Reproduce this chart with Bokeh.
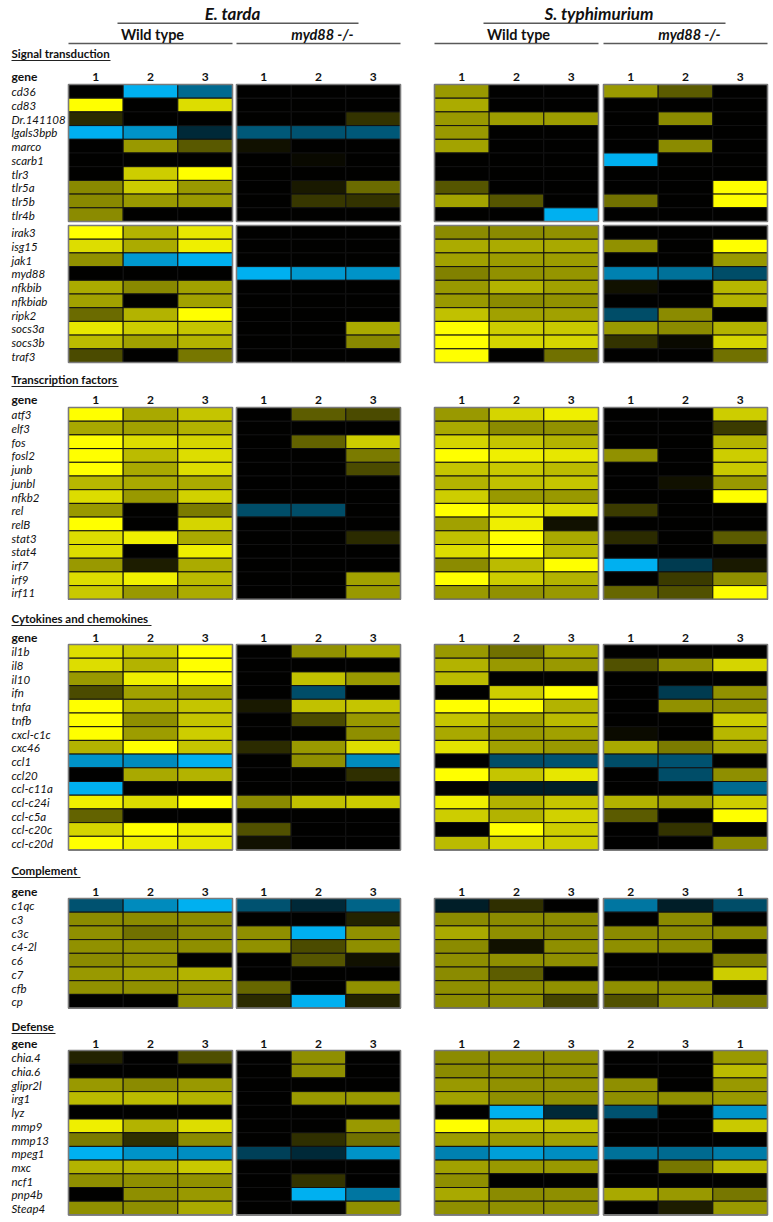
from bokeh.plotting import figure
from bokeh.models import ColumnDataSource, LinearColorMapper, Range1d
from bokeh.core.properties import value
from bokeh.embed import file_html
from bokeh.resources import INLINE

# ---------------- data (log2 fold change, saturating at +-3) ----------------
groups = ["E. tarda", "S. typhimurium"]
genotypes = ["Wild type", "myd88 -/-"]
cols_std = ["1", "2", "3"]
cols_alt = ["2", "3", "1"]

signal_genes = ["cd36", "cd83", "Dr.141108", "lgals3bpb", "marco", "scarb1", "tlr3", "tlr5a", "tlr5b", "tlr4b",
                "irak3", "isg15", "jak1", "myd88", "nfkbib", "nfkbiab", "ripk2", "socs3a", "socs3b", "traf3"]
signal_et_wt = [[0, -3, -1.8], [3, 0, 2.6], [0.5, 0, 0], [-3, -2.5, -0.7], [0, 1.8, 1.05], [0, 0, 0],
                [0, 2.4, 3], [1.6, 2.4, 1.8], [1.6, 1.8, 1.8], [1.62, 0, 0],
                [3, 2.1, 2.7], [2.6, 2.0, 2.8], [1.7, -2.6, -3], [0, 0, 0], [2.0, 1.6, 1.88], [1.88, 0, 1.88],
                [1.25, 2.1, 3], [2.7, 2.4, 2.3], [2.2, 1.88, 2.1], [0.87, 0, 1.4]]
signal_et_ko = [[0, 0, 0], [0, 0, 0], [0, 0, 0.6], [-1.5, -1.4, -1.5], [0.2, 0, 0], [0, 0.1, 0],
                [0, 0, 0], [0, 0.3, 1.25], [0, 0.65, 0.6], [0, 0, 0],
                [0, 0, 0], [0, 0, 0], [0, 0, 0], [-3, -2.6, -2.5], [0, 0, 0], [0, 0, 0],
                [0, 0, 0], [0, 0, 2.0], [0, 0, 1.6], [0, 0, 0]]
signal_st_wt = [[1.8, 0, 0], [2.0, 0, 0], [1.8, 1.85, 1.85], [1.8, 0, 0], [1.9, 0, 0], [0, 0, 0],
                [0, 0, 0], [1.0, 0, 0], [1.9, 1.0, 0], [0, 0, -3],
                [1.62, 1.62, 1.7], [2.0, 2.0, 1.98], [1.88, 1.85, 1.85], [1.5, 1.7, 1.75], [1.8, 2.1, 1.88],
                [1.8, 1.62, 1.7], [2.25, 1.88, 1.88], [3, 2.4, 2.35], [3, 2.5, 2.5], [3, 0, 1.32]]
signal_st_ko = [[1.8, 1.06, 0], [0, 0, 0], [0, 1.62, 0], [0, 0, 0], [0, 1.62, 0], [-3, 0, 0],
                [0, 0, 0], [0, 0, 3], [1.32, 0, 3], [0, 0, 0],
                [0, 0, 0], [1.7, 0, 3], [0, 0, 1.8], [-2.2, -1.9, -1.3], [0.2, 0, 2.15], [0, 0, 2.1],
                [-1.3, 1.62, 0], [1.8, 1.62, 2.1], [0.6, 0.1, 2.5], [0, 0, 1.32]]

tf_genes = ["atf3", "elf3", "fos", "fosl2", "junb", "junbl", "nfkb2", "rel", "relB", "stat3", "stat4",
            "irf7", "irf9", "irf11"]
tf_et_wt = [[3, 1.98, 2.3], [1.98, 1.88, 2.1], [3, 2.6, 2.5], [3, 2.2, 2.6], [3, 1.98, 2.6],
            [2.15, 1.98, 2.0], [2.6, 1.8, 2.45], [1.8, 0, 1.45], [3, 0, 2.5], [2.6, 2.8, 1.98],
            [2.6, 0, 2.8], [1.8, 0.35, 2.0], [2.6, 2.8, 2.2], [2.35, 1.8, 2.0]]
tf_et_ko = [[0, 1.1, 0.87], [0, 0, 0], [0, 1.15, 2.4], [0, 0, 1.45], [0, 0, 0.87], [0, 0, 0],
            [0, 0, 0], [-1.3, -1.3, 0], [0, 0, 0], [0, 0, 0.5], [0, 0, 0], [0, 0, 0],
            [0, 0, 1.88], [0, 0, 1.8]]
tf_st_wt = [[1.8, 2.5, 2.8], [1.98, 1.62, 1.7], [2.5, 2.3, 2.1], [3, 2.8, 2.7], [2.3, 2.35, 2.2],
            [2.1, 2.25, 2.3], [2.4, 1.8, 1.8], [3, 2.8, 2.6], [1.88, 2.8, 0.2], [2.25, 3, 1.98],
            [2.6, 3, 2.2], [1.62, 2.2, 3], [3, 2.4, 2.1], [1.8, 1.7, 1.8]]
tf_st_ko = [[0, 0, 2.4], [0, 0, 0.68], [0, 0, 2.1], [1.7, 0, 2.4], [0, 0, 2.35], [0, 0.2, 1.8],
            [0, 0, 3], [0.68, 0, 0], [0, 0, 0], [0.5, 0, 1.06], [0, 0, 0], [-3, -1.0, 0.3],
            [0, 0.68, 1.68], [1.2, 0.94, 3]]

cyto_genes = ["il1b", "il8", "il10", "ifn", "tnfa", "tnfb", "cxcl-c1c", "cxc46", "ccl1", "ccl20",
              "ccl-c11a", "ccl-c24i", "ccl-c5a", "ccl-c20c", "ccl-c20d"]
cyto_et_wt = [[2.6, 2.35, 3], [2.6, 2.1, 3], [1.8, 2.8, 3], [0.87, 1.88, 1.88], [3, 2.1, 2.3],
              [3, 1.68, 2.3], [3, 1.85, 2.4], [2.1, 3, 2.3], [-2.5, -2.35, -3], [0, 1.98, 2.1],
              [-3, 0, 0], [2.8, 2.6, 3], [1.15, 0, 0], [2.5, 3, 2.8], [3, 2.8, 2.7]]
cyto_et_ko = [[0, 1.7, 1.98], [0, 0, 0], [0, 2.25, 1.8], [0, -1.3, 0], [0.3, 2.25, 2.3],
              [0, 0.87, 1.8], [0, 0, 1.68], [0.5, 1.8, 2.6], [0, 1.68, -2.35], [0, 0, 0.54],
              [0, 0, 0], [1.62, 2.25, 2.4], [0, 0, 0], [0.94, 0, 0], [0.2, 0, 0]]
cyto_st_wt = [[1.8, 1.32, 1.98], [2.1, 1.8, 1.8], [2.2, 0, 0], [0, 2.4, 3], [3, 3, 2.1],
              [2.3, 1.88, 2.2], [1.98, 1.8, 1.88], [2.65, 1.88, 1.8], [0, -1.3, -1.4], [3, 2.3, 2.7],
              [0, -0.5, -0.5], [2.8, 2.1, 2.3], [2.4, 2.1, 2.45], [0, 3, 2.4], [2.2, 2.5, 2.4]]
cyto_st_ko = [[0, 0, 0], [0.94, 1.7, 2.5], [0, 0, 0], [0, -1.0, 1.7], [0, 1.7, 1.7],
              [0, 0, 2.4], [0.12, 0, 2.15], [1.98, 1.45, 1.98], [-1.3, -1.4, 0], [0, -1.3, 1.68],
              [0, 0, -1.8], [2.1, 1.88, 2.4], [1.06, 0, 3], [0, 0.6, 0], [0, 0, 1.62]]

comp_genes = ["c1qc", "c3", "c3c", "c4-2l", "c6", "c7", "cfb", "cp"]
comp_et_wt = [[-1.4, -2.35, -3], [1.62, 1.62, 1.62], [1.68, 1.32, 1.62], [1.7, 1.7, 1.68],
              [1.62, 1.7, 0], [1.8, 1.88, 2.1], [1.7, 1.7, 1.7], [0, 0, 1.68]]
comp_et_ko = [[-1.4, -0.7, -1.7], [0, 0, 0.4], [1.68, -3, 1.7], [1.7, 0.87, 1.68],
              [0, 1.0, 0.2], [0, 0, 0], [1.2, 0, 1.7], [0.5, -3, 0.4]]
comp_st_wt = [[-0.5, 0.54, 0], [1.62, 1.62, 1.62], [1.98, 1.68, 1.62], [1.62, 0.2, 1.68],
              [1.68, 1.68, 1.68], [1.62, 1.1, 0], [1.68, 1.7, 1.7], [1.62, 1.62, 0.8]]
comp_st_ko = [[-2.0, -0.5, -1.3], [0, 1.62, 0], [1.62, 1.62, 1.62], [1.68, 1.62, 0],
              [0, 0, 1.45], [0, 0, 2.4], [1.68, 1.62, 0], [0.94, 1.62, 1.4]]

def_genes = ["chia.4", "chia.6", "glipr2l", "irg1", "lyz", "mmp9", "mmp13", "mpeg1", "mxc", "ncf1",
             "pnp4b", "Steap4"]
def_et_wt = [[0.4, 0, 0.92], [0, 0, 0], [1.8, 1.62, 1.8], [2.2, 2.2, 2.1], [0, 0, 0], [2.8, 2.1, 2.6],
             [1.45, 0.54, 1.62], [-3, -2.5, -2.4], [2.1, 2.1, 2.35], [1.68, 1.68, 1.7],
             [0, 1.68, 1.8], [1.68, 1.68, 1.98]]
def_et_ko = [[0, 1.68, 0], [0, 1.68, 0], [0, 0, 0], [0, 1.8, 1.8], [0, 0, 0], [0, 0, 1.8],
             [0, 0.54, 1.32], [-1.1, -0.7, -2.5], [0, 0, 0], [0, 0.6, 0], [0, -3, -2.0], [0, 0, 1.68]]
def_st_wt = [[1.62, 1.68, 1.68], [1.62, 1.68, 1.68], [1.8, 1.7, 1.7], [1.88, 1.68, 1.68],
             [0, -3, -0.7], [3, 2.4, 2.3], [1.85, 1.8, 1.88], [-2.2, -2.7, -2.4], [1.88, 1.8, 1.8],
             [1.68, 0, 0], [1.98, 1.62, 1.68], [1.68, 1.68, 1.68]]
def_st_ko = [[0, 0, 1.8], [0, 0, 2.2], [1.68, 0, 1.8], [1.68, 1.68, 1.8], [-1.4, 0, -2.5],
             [0, 0, 2.35], [0, 0, 0], [-1.9, -1.8, -2.1], [0, 1.4, 2.2], [0, 0, 0],
             [1.98, 1.8, 1.4], [0, 0.35, 1.8]]

# ---------------- layout ----------------
sections = [
    dict(title="Signal transduction", genes=signal_genes,
         panels=[signal_et_wt, signal_et_ko, signal_st_wt, signal_st_ko], cols4=cols_std,
         title_y=53, gene_y=76, top=84, blocks=[10, 10], ul=99),
    dict(title="Transcription factors", genes=tf_genes,
         panels=[tf_et_wt, tf_et_ko, tf_st_wt, tf_st_ko], cols4=cols_std,
         title_y=379, gene_y=399, top=407, blocks=[14], ul=107),
    dict(title="Cytokines and chemokines", genes=cyto_genes,
         panels=[cyto_et_wt, cyto_et_ko, cyto_st_wt, cyto_st_ko], cols4=cols_std,
         title_y=618, gene_y=637, top=644, blocks=[15], ul=140),
    dict(title="Complement", genes=comp_genes,
         panels=[comp_et_wt, comp_et_ko, comp_st_wt, comp_st_ko], cols4=cols_alt,
         title_y=870, gene_y=891, top=898, blocks=[8], ul=69),
    dict(title="Defense", genes=def_genes,
         panels=[def_et_wt, def_et_ko, def_st_wt, def_st_ko], cols4=cols_alt,
         title_y=1026, gene_y=1043, top=1050, blocks=[12], ul=44),
]

W, H = 773, 1222
panel_left = [68, 236, 434, 603]
panel_w = 164
col_w = panel_w / 3
row_h = 13.7
block_gap = 4
label_x = 11
FONT = "Lato"

palette = []
for i in range(256):
    t = -1 + 2 * i / 255
    if t < 0:
        palette.append("#%02x%02x%02x" % (0, round(176 * -t), round(240 * -t)))
    else:
        palette.append("#%02x%02x%02x" % (round(255 * t), round(255 * t), 0))
mapper = LinearColorMapper(palette=palette, low=-3, high=3)

cells = dict(x=[], y=[], v=[])
frames = dict(x=[], y=[], h=[])
genes_txt = dict(x=[], y=[], t=[])
nums_txt = dict(x=[], y=[], t=[])
gene_hdr = dict(x=[], y=[], t=[])
titles = dict(x=[], y=[], t=[])
ul = dict(x0=[], x1=[], y=[])

for s in sections:
    titles["x"].append(label_x); titles["y"].append(s["title_y"]); titles["t"].append(s["title"])
    ul["x0"].append(label_x); ul["x1"].append(label_x + s["ul"]); ul["y"].append(s["title_y"] + 7)
    gene_hdr["x"].append(label_x); gene_hdr["y"].append(s["gene_y"]); gene_hdr["t"].append("gene")
    for k in range(4):
        labels = s["cols4"] if k == 3 else cols_std
        for c in range(3):
            nums_txt["x"].append(panel_left[k] + (c + 0.5) * col_w)
            nums_txt["y"].append(s["gene_y"])
            nums_txt["t"].append(labels[c])
    r0 = 0
    ytop = s["top"]
    for n in s["blocks"]:
        for k in range(4):
            frames["x"].append(panel_left[k] + panel_w / 2)
            frames["y"].append(ytop + n * row_h / 2)
            frames["h"].append(n * row_h)
        for i in range(n):
            r = r0 + i
            yc = ytop + (i + 0.5) * row_h
            genes_txt["x"].append(label_x); genes_txt["y"].append(yc + 0.5); genes_txt["t"].append(s["genes"][r])
            for k in range(4):
                for c in range(3):
                    cells["x"].append(panel_left[k] + (c + 0.5) * col_w)
                    cells["y"].append(yc)
                    cells["v"].append(s["panels"][k][r][c])
        r0 += n
        ytop += n * row_h + block_gap

p = figure(width=W, height=H, x_range=Range1d(0, W), y_range=Range1d(H, 0),
           output_backend="svg", toolbar_location=None, min_border=0,
           x_axis_location=None, y_axis_location=None)
p.grid.visible = False
p.outline_line_color = None
p.background_fill_color = "white"

p.rect(x="x", y="y", width=col_w, height=row_h, source=ColumnDataSource(cells),
       fill_color={"field": "v", "transform": mapper}, line_color="#111111", line_width=1)
p.rect(x="x", y="y", width=panel_w, height="h", source=ColumnDataSource(frames),
       fill_color=None, line_color="#7a7a7a", line_width=1.6)

# header
grp_left = [panel_left[0], panel_left[2]]
grp_right = [panel_left[1] + panel_w, panel_left[3] + panel_w]
hdr_lines = dict(x0=[], x1=[], y=[])
hdr_grp = dict(x=[], y=[], t=[])
hdr_gen = dict(x=[], y=[], t=[])
hdr_gen_it = dict(x=[], y=[], t=[])
for g in range(2):
    hdr_lines["x0"].append(grp_left[g] + 49); hdr_lines["x1"].append(grp_right[g] - 42); hdr_lines["y"].append(22.7)
    hdr_grp["x"].append((grp_left[g] + grp_right[g]) / 2 - 2); hdr_grp["y"].append(13); hdr_grp["t"].append(groups[g])
    for j in range(2):
        k = 2 * g + j
        hdr_lines["x0"].append(panel_left[k]); hdr_lines["x1"].append(panel_left[k] + panel_w); hdr_lines["y"].append(43)
        tgt = hdr_gen if j == 0 else hdr_gen_it
        tgt["x"].append(panel_left[k] + panel_w / 2 + (2 if j == 0 else 4))
        tgt["y"].append(34)
        tgt["t"].append(genotypes[j])

p.segment(x0="x0", y0="y", x1="x1", y1="y", source=ColumnDataSource(hdr_lines),
          line_color="#595959", line_width=1.4)
p.segment(x0="x0", y0="y", x1="x1", y1="y", source=ColumnDataSource(ul),
          line_color="#222222", line_width=1)

def txt(src, size, style, align="left"):
    p.text(x="x", y="y", text="t", source=ColumnDataSource(src), text_font=value(FONT),
           text_font_size=size, text_font_style=style, text_align=align,
           text_baseline="middle", text_color="#111111")

txt(hdr_grp, "17px", "bold italic", "center")
txt(hdr_gen, "14.5px", "bold", "center")
txt(hdr_gen_it, "14.5px", "bold italic", "center")
txt(titles, "11.5px", "bold")
txt(gene_hdr, "12px", "bold")
txt(nums_txt, "12px", "bold", "center")
txt(genes_txt, "11.5px", "italic")

open("out.html", "w").write(file_html(p, INLINE))
